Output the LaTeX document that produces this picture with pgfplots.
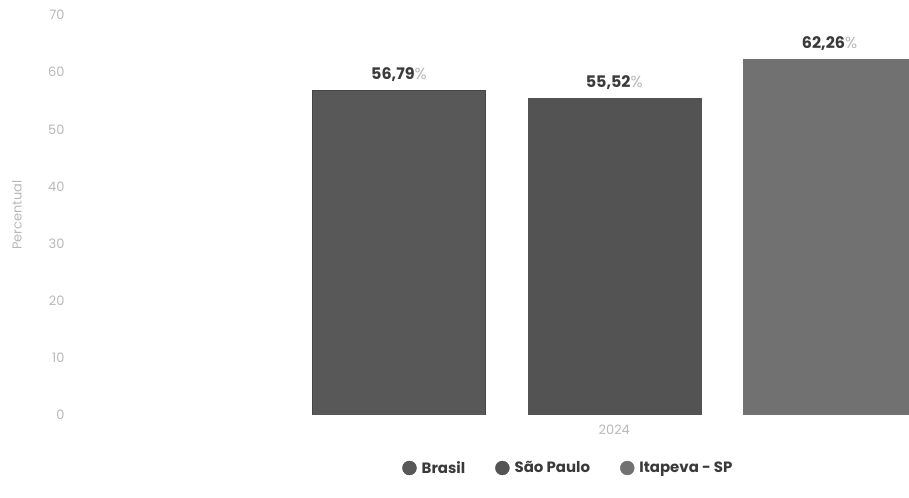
\documentclass[border=0pt]{standalone}
\usepackage{pgfplots}
\pgfplotsset{compat=1.18}
\usepackage{fontspec}
\setmainfont{Poppins}
\definecolor{cBR}{HTML}{585858}
\definecolor{cSP}{HTML}{535353}
\definecolor{cIT}{HTML}{717171}
\definecolor{tick}{HTML}{B8B8B8}
\definecolor{lab}{HTML}{3A3A3A}
\begin{document}
\begin{tikzpicture}
\useasboundingbox (0,0) rectangle (909bp,498bp);
\begin{axis}[
  at={(70bp,83bp)}, anchor=south west,
  scale only axis, width=839bp, height=400bp,
  xmin=-2.528, xmax=1.369, ymin=0, ymax=70,
  ytick={0,10,...,70},
  xtick={0}, xticklabels={2024},
  axis line style={draw=none},
  major tick length=0pt,
  /pgf/number format/assume math mode=true,
  tick label style={font=\fontsize{13}{15}\selectfont, text=tick},
  yticklabel style={xshift=-2bp},
  xticklabel style={yshift=-6bp},
  ylabel={Percentual},
  ylabel style={font=\fontsize{13}{15}\selectfont, text=tick, at={(axis description cs:-0.0632,0.5)}, anchor=center, rotate=0},
  ybar, bar shift=0pt, bar width=0.804,
  nodes near coords={\textbf{\pgfplotspointmeta}{\color{tick}\%}},
  nodes near coords style={font=\fontsize{16}{18}\selectfont, text=lab, yshift=5bp},
  point meta=explicit symbolic,
  legend columns=3,
  legend style={draw=none, fill=none, at={(axis description cs:0.594,-0.1325)}, anchor=center,
    font=\fontsize{15}{17}\selectfont\bfseries, text=lab,
    /tikz/every odd column/.append style={column sep=3bp},
    /tikz/every even column/.append style={column sep=28bp}},
  legend image code/.code={\fill[#1] (0.3cm,0) circle (7bp);},
]
\addplot[fill=cBR, draw=cBR!80!black] coordinates {(-1,56.79) [56,79]};
\addlegendentry{Brasil}
\addplot[fill=cSP, draw=cSP] coordinates {(0,55.52) [55,52]};
\addlegendentry{São Paulo}
\addplot[fill=cIT, draw=cIT] coordinates {(1,62.26) [62,26]};
\addlegendentry{Itapeva - SP}
\end{axis}
\end{tikzpicture}
\end{document}
